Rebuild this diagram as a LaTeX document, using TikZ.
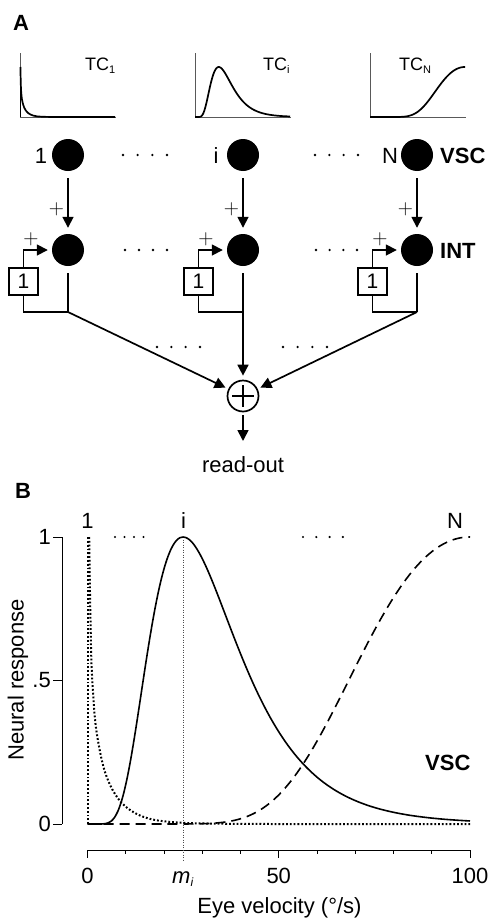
\documentclass[tikz,border=0pt]{standalone}
\usepackage{fontspec}
\setmainfont{Liberation Sans}
\newfontfamily\lmfont{Latin Modern Roman}
\usetikzlibrary{arrows.meta}
\newcommand\mydotrow[3]{\foreach \k in {0,1,2,3}{\fill ({#1+\k*(#2-#1)/3},#3) circle (1.3pt);}}
\begin{document}
\begin{tikzpicture}[x=1pt,y=-1pt,
  neuron/.style={circle,fill=black,minimum size=32pt,inner sep=0pt},
  sumnode/.style={circle,draw=black,line width=1.7pt,minimum size=31pt,inner sep=0pt},
  unitbox/.style={draw,line width=1.6pt,minimum width=29.5pt,minimum height=27.5pt,inner sep=0pt,font=\fontsize{21}{24}\selectfont},
  conn/.style={line width=1.7pt},
  arr/.style={conn,-{Triangle[length=11pt,width=11pt]}},
  lbl/.style={font=\fontsize{22}{26}\selectfont,inner sep=0pt},
  blbl/.style={font=\fontsize{22}{26}\selectfont\bfseries,inner sep=0pt},
  tcl/.style={font=\fontsize{18}{20}\selectfont,inner sep=0pt},
  plus/.style={font=\fontsize{21}{21}\selectfont\lmfont,inner sep=0pt},
  tcaxis/.style={line width=0.9pt,black!65},
  tccurve/.style={line width=1.7pt},
  axisline/.style={line width=0.9pt},
  curve/.style={line width=1.6pt},
  dotcurve/.style={line width=2pt,dash pattern=on 1.8pt off 2pt},
  dashcurve/.style={line width=1.6pt,dash pattern=on 10pt off 6pt},
  guide/.style={line width=0.7pt,black!70,dash pattern=on 1pt off 1.5pt}
]
\useasboundingbox (0,0) rectangle (489,918);

% ================= Panel A =================
\node[blbl,anchor=base west] (lA) at (13,30) {A};

% tuning-curve insets
\begin{scope}[xshift=20pt,yshift=-117pt,x=0.95pt,y=50pt]
  \draw[tcaxis] (0,1.28) -- (0,0) -- (101,0);
  \draw[tccurve] (0.45,0) -- (0.45,1);
  \draw[tccurve] plot[smooth] coordinates {(0.45,1) (0.6,0.85) (0.8,0.7) (1.1,0.54) (2,0.36) (3.3,0.25) (4.6,0.18) (6.3,0.125) (8.5,0.08) (11,0.05) (14,0.028) (18,0.013) (25,0.004) (35,0.001) (50,0) (100,0)};
\end{scope}
\begin{scope}[xshift=195pt,yshift=-117pt,x=0.95pt,y=50pt]
  \draw[tcaxis] (0,1.28) -- (0,0) -- (101,0);
  \draw[tccurve] (0,0) -- (3,0) -- plot[domain=3:100,samples=100,smooth] (\x,{exp(-(ln(\x/25))*(ln(\x/25))/0.423)});
\end{scope}
\begin{scope}[xshift=370pt,yshift=-117pt,x=0.95pt,y=50pt]
  \draw[tcaxis] (0,1.28) -- (0,0) -- (101,0);
  \draw[tccurve] (0,0) -- (20,0) -- plot[domain=20:100,samples=100,smooth] (\x,{exp(-(ln(\x/100))*(ln(\x/100))/0.21)});
\end{scope}
\node[tcl,anchor=base west] (tc1) at (85,70) {TC\raisebox{-3pt}{\fontsize{11}{12}\selectfont 1}};
\node[tcl,anchor=base west] (tci) at (263,70) {TC\raisebox{-3pt}{\fontsize{11}{12}\selectfont i}};
\node[tcl,anchor=base west] (tcN) at (399,70) {TC\raisebox{-3pt}{\fontsize{11}{12}\selectfont N}};

% sum node
\node[sumnode] (s) at (243,396) {};
\draw[line width=1.6pt] (s.center) ++(-11,0) -- ++(22,0);
\draw[line width=1.6pt] (s.center) ++(0,-11) -- ++(0,22);

% columns
\foreach \c/\X in {1/68, i/243, N/417} {
  \node[neuron] (v\c) at (\X,155) {};
  \node[neuron] (n\c) at (\X,250) {};
  \node[lbl,anchor=base] (lv\c) at ({\X-27},163) {\c};
  \draw[arr,shorten <=7pt,shorten >=6pt] (v\c) -- (n\c);
  \node[plus] (pv\c) at ({\X-11.5},209.5) {+};
  \node[unitbox] (b\c) at ({\X-44.5},281.5) {1};
  \draw[arr,shorten >=4pt] (b\c.north) |- (n\c.west);
  \node[plus] (pf\c) at ({\X-37},239) {+};
  \coordinate (j\c) at (\X,312);
  \draw[conn,shorten <=7pt] (n\c) -- (j\c);
  \draw[conn] (b\c.south) |- (j\c);
}
\draw[arr,shorten >=3pt] (j1) -- (s);
\draw[arr,shorten >=4pt] (ji) -- (s);
\draw[arr,shorten >=3pt] (jN) -- (s);

\node[blbl,anchor=base west] (vsc) at (440,163) {VSC};
\node[blbl,anchor=base west] (int) at (440,258) {INT};

\mydotrow{123}{167}{155}
\mydotrow{315}{358}{155}
\mydotrow{125}{167}{250}
\mydotrow{316}{357}{250}
\mydotrow{157}{200}{347}
\mydotrow{283}{327}{347}

\coordinate (out) at (243,441);
\draw[arr,shorten <=3pt] (s) -- (out);
\node[lbl,anchor=base] (ro) at (243,472) {read-out};

% ================= Panel B =================
\node[blbl,anchor=base west] (lB) at (15,498) {B};

% axes
\draw[axisline] (62,537) -- (62,824);
\draw[axisline] (53,537) -- (62,537);
\draw[axisline] (53,680.5) -- (62,680.5);
\draw[axisline] (53,824) -- (62,824);
\node[lbl,anchor=east] (y1) at (51,537) {1};
\node[lbl,anchor=east] (y5) at (51,680.5) {.5};
\node[lbl,anchor=east] (y0) at (51,824) {0};
\node[lbl,rotate=90] (ylab) at (18,680) {Neural response};

\draw[axisline] (87.5,850) -- (470,850);
\foreach \k in {1,2,3,4,6,7,8,9} \draw[axisline] ({87.5+38.25*\k},850) -- ++(0,4);
\foreach \k in {0,5,10} \draw[axisline] ({87.5+38.25*\k},850) -- ++(0,8);
\node[lbl,anchor=base] (x0) at (87.5,883) {0};
\node[lbl,anchor=base] (x50) at (278.75,883) {50};
\node[lbl,anchor=base] (x100) at (470,883) {100};
\node[lbl,anchor=base west] (mi) at (172,883) {\itshape m\raisebox{-3pt}{\fontsize{12}{12}\selectfont\itshape i}};
\node[lbl,anchor=base] (xlab) at (279.5,913) {Eye velocity (°/s)};

% guide line at m_i
\draw[guide] (183.1,537) -- (183.1,862);

% curves
\begin{scope}[xshift=87.5pt,yshift=-824pt,x=3.825pt,y=287pt]
  \draw[dotcurve] (0,0) -- (0,1);
  \draw[dotcurve] plot[smooth] coordinates {(0.45,1) (0.6,0.85) (0.8,0.7) (1.1,0.54) (2,0.36) (3.3,0.25) (4.6,0.18) (6.3,0.125) (8.5,0.08) (11,0.05) (14,0.028) (18,0.013) (25,0.004) (35,0.001) (50,0) (100,0)};
  \draw[curve] (0,0) -- (3,0) -- plot[domain=3:100,samples=120,smooth] (\x,{exp(-(ln(\x/25))*(ln(\x/25))/0.423)});
  \draw[dashcurve] (0,0) -- (20,0) -- plot[domain=20:100,samples=100,smooth] (\x,{exp(-(ln(\x/100))*(ln(\x/100))/0.21)});
\end{scope}

\node[lbl,anchor=base] (t1) at (87.5,528) {1};
\node[lbl,anchor=base] (ti) at (183.5,528) {i};
\node[lbl,anchor=base] (tN) at (455,528) {N};
\foreach \k in {0,1,2,3} \fill ({115+\k*9.5},537) circle (1.2pt);
\foreach \k in {0,1,2,3} \fill ({303+\k*13.3},537) circle (1.2pt);

\node[blbl,anchor=base west] (vscB) at (425,770) {VSC};
\end{tikzpicture}
\end{document}
